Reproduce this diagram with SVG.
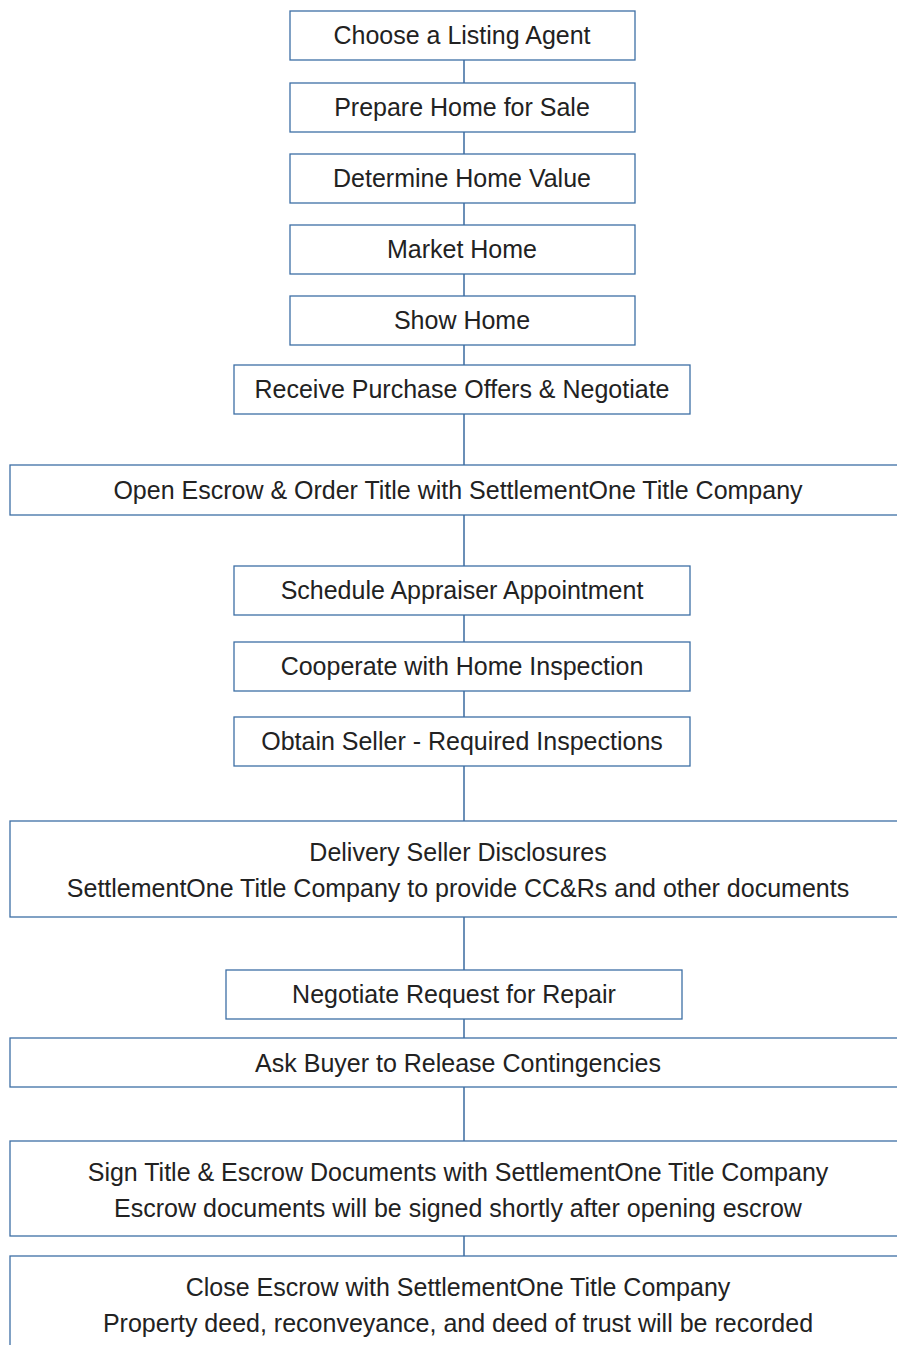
<svg xmlns="http://www.w3.org/2000/svg" width="897" height="1345" viewBox="0 0 897 1345">
<style>
.b{fill:#fff;stroke:#3d6fa5;stroke-width:1.3}
.t{font-family:"Liberation Sans",Arial,sans-serif;font-size:25px;fill:#222;text-anchor:middle}
.c{stroke:#6b8fb7;stroke-width:2;fill:none}
</style>
<rect width="897" height="1345" fill="#fff"/>
<g id="connectors">
<line class="c" x1="464" y1="60" x2="464" y2="83"/>
<line class="c" x1="464" y1="132" x2="464" y2="154"/>
<line class="c" x1="464" y1="203" x2="464" y2="225"/>
<line class="c" x1="464" y1="274" x2="464" y2="296"/>
<line class="c" x1="464" y1="345" x2="464" y2="365"/>
<line class="c" x1="464" y1="414" x2="464" y2="465"/>
<line class="c" x1="464" y1="515" x2="464" y2="566"/>
<line class="c" x1="464" y1="615" x2="464" y2="642"/>
<line class="c" x1="464" y1="691" x2="464" y2="717"/>
<line class="c" x1="464" y1="766" x2="464" y2="821"/>
<line class="c" x1="464" y1="917" x2="464" y2="970"/>
<line class="c" x1="464" y1="1019" x2="464" y2="1038"/>
<line class="c" x1="464" y1="1087" x2="464" y2="1141"/>
<line class="c" x1="464" y1="1236" x2="464" y2="1256"/>
</g>
<g id="n1"><rect class="b" x="290" y="11" width="345" height="49"/><text class="t" x="462" y="44">Choose a Listing Agent</text></g>
<g id="n2"><rect class="b" x="290" y="83" width="345" height="49"/><text class="t" x="462" y="116">Prepare Home for Sale</text></g>
<g id="n3"><rect class="b" x="290" y="154" width="345" height="49"/><text class="t" x="462" y="187">Determine Home Value</text></g>
<g id="n4"><rect class="b" x="290" y="225" width="345" height="49"/><text class="t" x="462" y="258">Market Home</text></g>
<g id="n5"><rect class="b" x="290" y="296" width="345" height="49"/><text class="t" x="462" y="329">Show Home</text></g>
<g id="n6"><rect class="b" x="234" y="365" width="456" height="49"/><text class="t" x="462" y="398">Receive Purchase Offers &amp; Negotiate</text></g>
<g id="n7"><rect class="b" x="10" y="465" width="900" height="50"/><text class="t" x="458" y="499">Open Escrow &amp; Order Title with SettlementOne Title Company</text></g>
<g id="n8"><rect class="b" x="234" y="566" width="456" height="49"/><text class="t" x="462" y="599">Schedule Appraiser Appointment</text></g>
<g id="n9"><rect class="b" x="234" y="642" width="456" height="49"/><text class="t" x="462" y="675">Cooperate with Home Inspection</text></g>
<g id="n10"><rect class="b" x="234" y="717" width="456" height="49"/><text class="t" x="462" y="750">Obtain Seller - Required Inspections</text></g>
<g id="n11"><rect class="b" x="10" y="821" width="900" height="96"/><text class="t" x="458" y="861">Delivery Seller Disclosures</text><text class="t" x="458" y="897">SettlementOne Title Company to provide CC&amp;Rs and other documents</text></g>
<g id="n12"><rect class="b" x="226" y="970" width="456" height="49"/><text class="t" x="454" y="1003">Negotiate Request for Repair</text></g>
<g id="n13"><rect class="b" x="10" y="1038" width="900" height="49"/><text class="t" x="458" y="1072">Ask Buyer to Release Contingencies</text></g>
<g id="n14"><rect class="b" x="10" y="1141" width="900" height="95"/><text class="t" x="458" y="1181">Sign Title &amp; Escrow Documents with SettlementOne Title Company</text><text class="t" x="458" y="1217">Escrow documents will be signed shortly after opening escrow</text></g>
<g id="n15"><rect class="b" x="10" y="1256" width="900" height="100"/><text class="t" x="458" y="1296">Close Escrow with SettlementOne Title Company</text><text class="t" x="458" y="1332">Property deed, reconveyance, and deed of trust will be recorded</text></g>
</svg>
